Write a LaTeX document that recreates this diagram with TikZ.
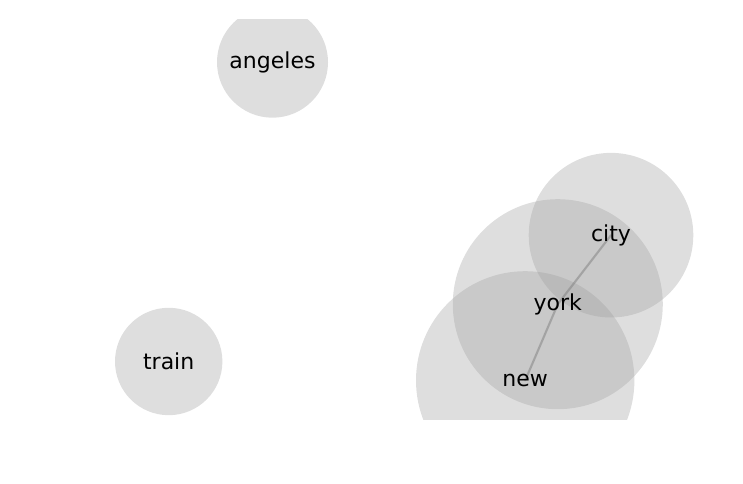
\documentclass[tikz,border=0pt]{standalone}
\usepackage{fontspec}
\setmainfont{DejaVu Sans}
\usetikzlibrary{backgrounds}
\tikzset{word/.style={font=\fontsize{16.5}{18}\selectfont, inner sep=0pt},
	bubble/.style={fill=black!39, fill opacity=.33},
	link/.style={draw=black!50, line width=1.6pt, draw opacity=.5, line cap=round}}
\begin{document}
\begin{tikzpicture}[x=.75pt, y=.75pt]
	\useasboundingbox (0,0) rectangle (743,484);
	\foreach \w/\x/\y in {angeles/272.5/421.8, train/168.7/122.5, city/611/248.8, york/557.8/179.8, new/525.2/103.6}
		\node[word] (\w) at (\x,\y) {\w};
	\begin{scope}[on background layer]
		\clip (0,64) rectangle (743,464);
		\foreach \w/\r in {angeles/55.5, train/53.7, city/82.3, york/105, new/109.2}
			\fill[bubble] (\w.center) circle (\r);
		\draw[link] (new.center) -- (york.center) -- (city.center);
	\end{scope}
\end{tikzpicture}
\end{document}
